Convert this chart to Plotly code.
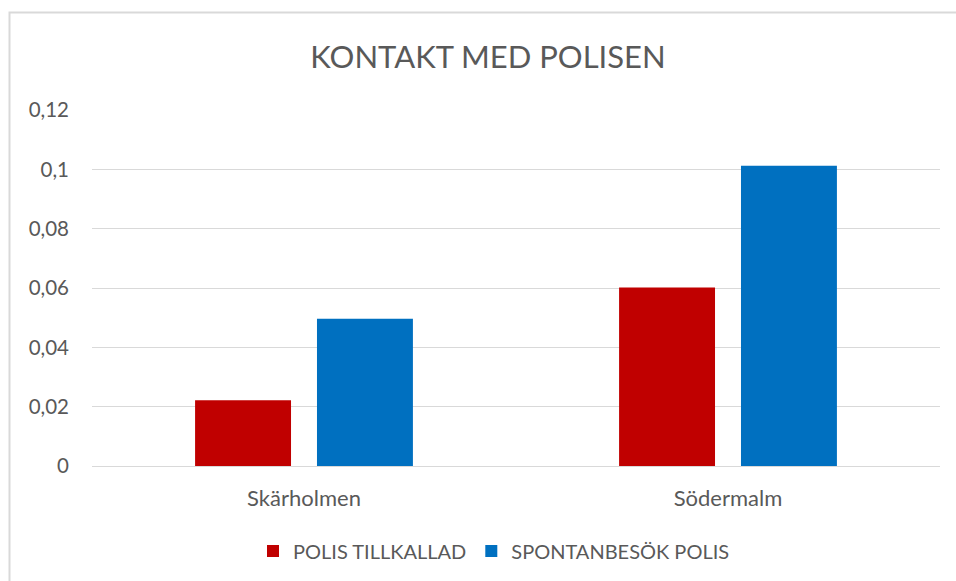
import plotly.graph_objects as go

categories = ["Skärholmen", "Södermalm"]
polis_tillkallad = [0.0222, 0.0602]
spontanbesok_polis = [0.0496, 0.1012]
series_names = ["POLIS TILLKALLAD", "SPONTANBESÖK POLIS"]
tick_values = [0, 0.02, 0.04, 0.06, 0.08, 0.1, 0.12]
tick_labels = ["0", "0,02", "0,04", "0,06", "0,08", "0,1", "0,12"]

W, H = 956, 581
L, R, T, B = 92, 16, 110, 115
pw, ph = W - L - R, H - T - B

def px_x(x):
    return (x - L) / pw

def px_y(y):
    return 1 - (y - T) / ph

fig = go.Figure()
fig.add_trace(go.Bar(x=categories, y=polis_tillkallad, name=series_names[0],
                     marker=dict(color="#c00000", line=dict(width=0))))
fig.add_trace(go.Bar(x=categories, y=spontanbesok_polis, name=series_names[1],
                     marker=dict(color="#0070c0", line=dict(width=0))))

font_family = "Lato, 'Open Sans', sans-serif"

fig.update_layout(
    width=W, height=H,
    margin=dict(l=L, r=R, t=T, b=B, pad=0),
    paper_bgcolor="white", plot_bgcolor="white",
    barmode="group", bargap=0.425, bargroupgap=0.213,
    separators=", ",
    title=dict(text="KONTAKT MED POLISEN", x=488 / W, xanchor="center",
               y=1 - 57 / H, yanchor="middle",
               font=dict(family=font_family, size=31, color="#595959")),
    font=dict(family=font_family, color="#595959"),
    xaxis=dict(showgrid=False, showline=False, ticks="",
               tickfont=dict(size=22, color="#595959"), ticklabelstandoff=17),
    yaxis=dict(range=[0, 0.12], tickvals=tick_values, ticktext=tick_labels,
               showgrid=True, gridcolor="#d9d9d9", gridwidth=1,
               zeroline=True, zerolinecolor="#d9d9d9", zerolinewidth=1,
               showline=False, ticks="", ticklabelstandoff=22,
               tickfont=dict(size=20.5, color="#595959")),
    legend=dict(orientation="h", x=494 / W, xref="container", xanchor="center",
                y=1 - 551 / H, yref="container", yanchor="middle",
                font=dict(size=20, color="#595959"),
                itemwidth=30, tracegroupgap=0),
    showlegend=True,
)

fig.add_shape(type="rect", xref="paper", yref="paper",
              x0=px_x(9.5), x1=px_x(W + 20), y0=px_y(H + 20), y1=px_y(12.5),
              line=dict(color="#d9d9d9", width=2), fillcolor="rgba(0,0,0,0)",
              layer="above")

fig.write_html("out.html", config={"displayModeBar": False},
               post_script="document.body.style.margin='0';")
